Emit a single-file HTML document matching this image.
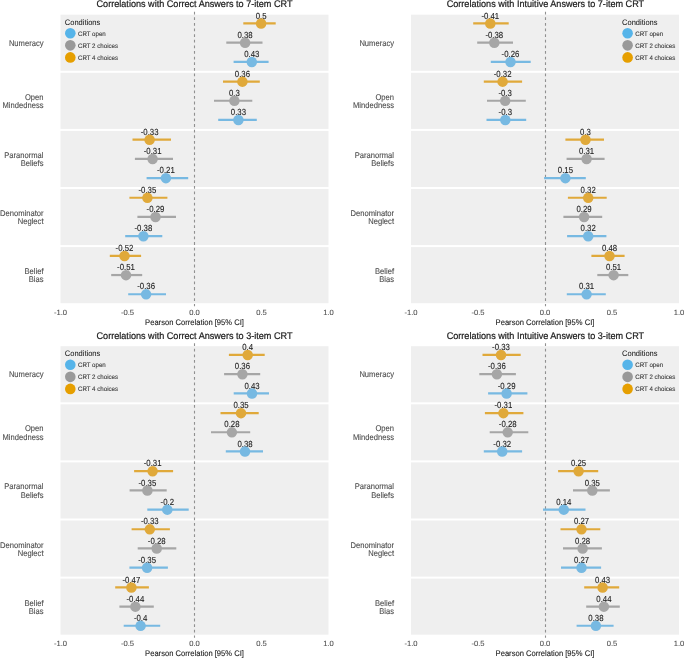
<!DOCTYPE html>
<html><head><meta charset="utf-8"><style>
html,body{margin:0;padding:0;background:#fff;width:685px;height:658px;overflow:hidden}
svg{display:block;font-family:"Liberation Sans", sans-serif;filter:blur(0.4px);text-rendering:geometricPrecision}
</style></head><body>
<svg width="685" height="658" viewBox="0 0 685 658">
<rect width="685" height="658" fill="#FFFFFF"/>
<text transform="translate(194.50,7.40) scale(1,1.06)" font-size="9.1" fill="#1A1A1A" stroke="#1A1A1A" stroke-width="0.2" text-anchor="middle">Correlations with Correct Answers to 7-item CRT</text>
<rect x="60.5" y="14.7" width="268.0" height="56.1" fill="#EFEFEF"/>
<rect x="60.5" y="72.8" width="268.0" height="56.1" fill="#EFEFEF"/>
<rect x="60.5" y="130.9" width="268.0" height="56.1" fill="#EFEFEF"/>
<rect x="60.5" y="189.0" width="268.0" height="56.1" fill="#EFEFEF"/>
<rect x="60.5" y="247.1" width="268.0" height="56.1" fill="#EFEFEF"/>
<line x1="194.50" y1="11.70" x2="194.50" y2="306.30" stroke="#909090" stroke-width="1.1" stroke-dasharray="2.8 2.82"/>
<text transform="translate(64.80,24.50) scale(1,1.06)" font-size="7.5" fill="#1A1A1A" stroke="#1A1A1A" stroke-width="0.05">Conditions</text>
<circle cx="70.30" cy="33.30" r="5.3" fill="#56B4E9"/>
<text transform="translate(78.00,35.75) scale(1,1.06)" font-size="6.15" fill="#333333" stroke="#333333" stroke-width="0.08">CRT open</text>
<circle cx="70.30" cy="45.35" r="5.3" fill="#999999"/>
<text transform="translate(78.00,47.80) scale(1,1.06)" font-size="6.15" fill="#333333" stroke="#333333" stroke-width="0.08">CRT 2 choices</text>
<circle cx="70.30" cy="57.40" r="5.3" fill="#E69F00"/>
<text transform="translate(78.00,59.85) scale(1,1.06)" font-size="6.15" fill="#333333" stroke="#333333" stroke-width="0.08">CRT 4 choices</text>
<text transform="translate(43.50,45.90) scale(1,1.1)" font-size="7.6" fill="#4D4D4D" stroke="#4D4D4D" stroke-width="0.1" text-anchor="end">Numeracy</text>
<text transform="translate(43.50,99.85) scale(1,1.1)" font-size="7.6" fill="#4D4D4D" stroke="#4D4D4D" stroke-width="0.1" text-anchor="end">Open</text>
<text transform="translate(43.50,108.15) scale(1,1.1)" font-size="7.6" fill="#4D4D4D" stroke="#4D4D4D" stroke-width="0.1" text-anchor="end">Mindedness</text>
<text transform="translate(43.50,157.95) scale(1,1.1)" font-size="7.6" fill="#4D4D4D" stroke="#4D4D4D" stroke-width="0.1" text-anchor="end">Paranormal</text>
<text transform="translate(43.50,166.25) scale(1,1.1)" font-size="7.6" fill="#4D4D4D" stroke="#4D4D4D" stroke-width="0.1" text-anchor="end">Beliefs</text>
<text transform="translate(43.50,216.05) scale(1,1.1)" font-size="7.6" fill="#4D4D4D" stroke="#4D4D4D" stroke-width="0.1" text-anchor="end">Denominator</text>
<text transform="translate(43.50,224.35) scale(1,1.1)" font-size="7.6" fill="#4D4D4D" stroke="#4D4D4D" stroke-width="0.1" text-anchor="end">Neglect</text>
<text transform="translate(43.50,274.15) scale(1,1.1)" font-size="7.6" fill="#4D4D4D" stroke="#4D4D4D" stroke-width="0.1" text-anchor="end">Belief</text>
<text transform="translate(43.50,282.45) scale(1,1.1)" font-size="7.6" fill="#4D4D4D" stroke="#4D4D4D" stroke-width="0.1" text-anchor="end">Bias</text>
<line x1="243.30" y1="23.45" x2="275.70" y2="23.45" stroke="#E0A93A" stroke-width="2.2"/>
<line x1="226.30" y1="42.65" x2="262.50" y2="42.65" stroke="#A6A6A6" stroke-width="2.2"/>
<line x1="233.60" y1="61.85" x2="268.60" y2="61.85" stroke="#77B9E2" stroke-width="2.2"/>
<line x1="223.00" y1="81.55" x2="259.80" y2="81.55" stroke="#E0A93A" stroke-width="2.2"/>
<line x1="214.00" y1="100.75" x2="252.30" y2="100.75" stroke="#A6A6A6" stroke-width="2.2"/>
<line x1="218.20" y1="119.95" x2="256.80" y2="119.95" stroke="#77B9E2" stroke-width="2.2"/>
<line x1="132.50" y1="139.65" x2="171.00" y2="139.65" stroke="#E0A93A" stroke-width="2.2"/>
<line x1="134.90" y1="158.85" x2="173.00" y2="158.85" stroke="#A6A6A6" stroke-width="2.2"/>
<line x1="146.60" y1="178.05" x2="188.20" y2="178.05" stroke="#77B9E2" stroke-width="2.2"/>
<line x1="129.40" y1="197.75" x2="167.40" y2="197.75" stroke="#E0A93A" stroke-width="2.2"/>
<line x1="137.40" y1="216.95" x2="176.00" y2="216.95" stroke="#A6A6A6" stroke-width="2.2"/>
<line x1="125.20" y1="236.15" x2="162.30" y2="236.15" stroke="#77B9E2" stroke-width="2.2"/>
<line x1="109.80" y1="255.85" x2="141.10" y2="255.85" stroke="#E0A93A" stroke-width="2.2"/>
<line x1="111.20" y1="275.05" x2="142.20" y2="275.05" stroke="#A6A6A6" stroke-width="2.2"/>
<line x1="128.20" y1="294.25" x2="166.00" y2="294.25" stroke="#77B9E2" stroke-width="2.2"/>
<text transform="translate(261.10,18.60) scale(1,1.13)" font-size="7.8" fill="#222222" stroke="#222222" stroke-width="0.1" text-anchor="middle">0.5</text>
<circle cx="261.10" cy="23.55" r="5.25" fill="#E0A93A"/>
<text transform="translate(245.10,37.80) scale(1,1.13)" font-size="7.8" fill="#222222" stroke="#222222" stroke-width="0.1" text-anchor="middle">0.38</text>
<circle cx="245.10" cy="42.75" r="5.25" fill="#A6A6A6"/>
<text transform="translate(251.80,57.00) scale(1,1.13)" font-size="7.8" fill="#222222" stroke="#222222" stroke-width="0.1" text-anchor="middle">0.43</text>
<circle cx="251.80" cy="61.95" r="5.25" fill="#77B9E2"/>
<text transform="translate(242.40,76.70) scale(1,1.13)" font-size="7.8" fill="#222222" stroke="#222222" stroke-width="0.1" text-anchor="middle">0.36</text>
<circle cx="242.40" cy="81.65" r="5.25" fill="#E0A93A"/>
<text transform="translate(234.40,95.90) scale(1,1.13)" font-size="7.8" fill="#222222" stroke="#222222" stroke-width="0.1" text-anchor="middle">0.3</text>
<circle cx="234.40" cy="100.85" r="5.25" fill="#A6A6A6"/>
<text transform="translate(238.40,115.10) scale(1,1.13)" font-size="7.8" fill="#222222" stroke="#222222" stroke-width="0.1" text-anchor="middle">0.33</text>
<circle cx="238.40" cy="120.05" r="5.25" fill="#77B9E2"/>
<text transform="translate(149.60,134.80) scale(1,1.13)" font-size="7.8" fill="#222222" stroke="#222222" stroke-width="0.1" text-anchor="middle">-0.33</text>
<circle cx="149.60" cy="139.75" r="5.25" fill="#E0A93A"/>
<text transform="translate(152.60,154.00) scale(1,1.13)" font-size="7.8" fill="#222222" stroke="#222222" stroke-width="0.1" text-anchor="middle">-0.31</text>
<circle cx="152.60" cy="158.95" r="5.25" fill="#A6A6A6"/>
<text transform="translate(165.90,173.20) scale(1,1.13)" font-size="7.8" fill="#222222" stroke="#222222" stroke-width="0.1" text-anchor="middle">-0.21</text>
<circle cx="165.90" cy="178.15" r="5.25" fill="#77B9E2"/>
<text transform="translate(147.40,192.90) scale(1,1.13)" font-size="7.8" fill="#222222" stroke="#222222" stroke-width="0.1" text-anchor="middle">-0.35</text>
<circle cx="147.40" cy="197.85" r="5.25" fill="#E0A93A"/>
<text transform="translate(155.50,212.10) scale(1,1.13)" font-size="7.8" fill="#222222" stroke="#222222" stroke-width="0.1" text-anchor="middle">-0.29</text>
<circle cx="155.50" cy="217.05" r="5.25" fill="#A6A6A6"/>
<text transform="translate(143.40,231.30) scale(1,1.13)" font-size="7.8" fill="#222222" stroke="#222222" stroke-width="0.1" text-anchor="middle">-0.38</text>
<circle cx="143.40" cy="236.25" r="5.25" fill="#77B9E2"/>
<text transform="translate(124.50,251.00) scale(1,1.13)" font-size="7.8" fill="#222222" stroke="#222222" stroke-width="0.1" text-anchor="middle">-0.52</text>
<circle cx="124.50" cy="255.95" r="5.25" fill="#E0A93A"/>
<text transform="translate(126.00,270.20) scale(1,1.13)" font-size="7.8" fill="#222222" stroke="#222222" stroke-width="0.1" text-anchor="middle">-0.51</text>
<circle cx="126.00" cy="275.15" r="5.25" fill="#A6A6A6"/>
<text transform="translate(146.10,289.40) scale(1,1.13)" font-size="7.8" fill="#222222" stroke="#222222" stroke-width="0.1" text-anchor="middle">-0.36</text>
<circle cx="146.10" cy="294.35" r="5.25" fill="#77B9E2"/>
<text transform="translate(60.50,314.90) scale(1,1.0)" font-size="7.6" fill="#4D4D4D" stroke="#4D4D4D" stroke-width="0.08" text-anchor="middle">-1.0</text>
<text transform="translate(127.50,314.90) scale(1,1.0)" font-size="7.6" fill="#4D4D4D" stroke="#4D4D4D" stroke-width="0.08" text-anchor="middle">-0.5</text>
<text transform="translate(194.50,314.90) scale(1,1.0)" font-size="7.6" fill="#4D4D4D" stroke="#4D4D4D" stroke-width="0.08" text-anchor="middle">0.0</text>
<text transform="translate(261.50,314.90) scale(1,1.0)" font-size="7.6" fill="#4D4D4D" stroke="#4D4D4D" stroke-width="0.08" text-anchor="middle">0.5</text>
<text transform="translate(328.50,314.90) scale(1,1.0)" font-size="7.6" fill="#4D4D4D" stroke="#4D4D4D" stroke-width="0.08" text-anchor="middle">1.0</text>
<text transform="translate(194.50,324.90) scale(1,1.06)" font-size="7.6" fill="#1A1A1A" stroke="#1A1A1A" stroke-width="0.1" text-anchor="middle">Pearson Correlation [95% CI]</text>
<text transform="translate(545.40,7.40) scale(1,1.06)" font-size="9.1" fill="#1A1A1A" stroke="#1A1A1A" stroke-width="0.2" text-anchor="middle">Correlations with Intuitive Answers to 7-item CRT</text>
<rect x="411.0" y="14.7" width="268.0" height="56.1" fill="#EFEFEF"/>
<rect x="411.0" y="72.8" width="268.0" height="56.1" fill="#EFEFEF"/>
<rect x="411.0" y="130.9" width="268.0" height="56.1" fill="#EFEFEF"/>
<rect x="411.0" y="189.0" width="268.0" height="56.1" fill="#EFEFEF"/>
<rect x="411.0" y="247.1" width="268.0" height="56.1" fill="#EFEFEF"/>
<line x1="545.50" y1="11.70" x2="545.50" y2="306.30" stroke="#909090" stroke-width="1.1" stroke-dasharray="2.8 2.82"/>
<text transform="translate(622.10,24.50) scale(1,1.06)" font-size="7.5" fill="#1A1A1A" stroke="#1A1A1A" stroke-width="0.05">Conditions</text>
<circle cx="627.60" cy="33.30" r="5.3" fill="#56B4E9"/>
<text transform="translate(635.30,35.75) scale(1,1.06)" font-size="6.15" fill="#333333" stroke="#333333" stroke-width="0.08">CRT open</text>
<circle cx="627.60" cy="45.35" r="5.3" fill="#999999"/>
<text transform="translate(635.30,47.80) scale(1,1.06)" font-size="6.15" fill="#333333" stroke="#333333" stroke-width="0.08">CRT 2 choices</text>
<circle cx="627.60" cy="57.40" r="5.3" fill="#E69F00"/>
<text transform="translate(635.30,59.85) scale(1,1.06)" font-size="6.15" fill="#333333" stroke="#333333" stroke-width="0.08">CRT 4 choices</text>
<text transform="translate(394.00,45.90) scale(1,1.1)" font-size="7.6" fill="#4D4D4D" stroke="#4D4D4D" stroke-width="0.1" text-anchor="end">Numeracy</text>
<text transform="translate(394.00,99.85) scale(1,1.1)" font-size="7.6" fill="#4D4D4D" stroke="#4D4D4D" stroke-width="0.1" text-anchor="end">Open</text>
<text transform="translate(394.00,108.15) scale(1,1.1)" font-size="7.6" fill="#4D4D4D" stroke="#4D4D4D" stroke-width="0.1" text-anchor="end">Mindedness</text>
<text transform="translate(394.00,157.95) scale(1,1.1)" font-size="7.6" fill="#4D4D4D" stroke="#4D4D4D" stroke-width="0.1" text-anchor="end">Paranormal</text>
<text transform="translate(394.00,166.25) scale(1,1.1)" font-size="7.6" fill="#4D4D4D" stroke="#4D4D4D" stroke-width="0.1" text-anchor="end">Beliefs</text>
<text transform="translate(394.00,216.05) scale(1,1.1)" font-size="7.6" fill="#4D4D4D" stroke="#4D4D4D" stroke-width="0.1" text-anchor="end">Denominator</text>
<text transform="translate(394.00,224.35) scale(1,1.1)" font-size="7.6" fill="#4D4D4D" stroke="#4D4D4D" stroke-width="0.1" text-anchor="end">Neglect</text>
<text transform="translate(394.00,274.15) scale(1,1.1)" font-size="7.6" fill="#4D4D4D" stroke="#4D4D4D" stroke-width="0.1" text-anchor="end">Belief</text>
<text transform="translate(394.00,282.45) scale(1,1.1)" font-size="7.6" fill="#4D4D4D" stroke="#4D4D4D" stroke-width="0.1" text-anchor="end">Bias</text>
<line x1="473.20" y1="23.45" x2="508.70" y2="23.45" stroke="#E0A93A" stroke-width="2.2"/>
<line x1="477.20" y1="42.65" x2="513.00" y2="42.65" stroke="#A6A6A6" stroke-width="2.2"/>
<line x1="490.80" y1="61.85" x2="530.70" y2="61.85" stroke="#77B9E2" stroke-width="2.2"/>
<line x1="483.80" y1="81.55" x2="522.10" y2="81.55" stroke="#E0A93A" stroke-width="2.2"/>
<line x1="487.00" y1="100.75" x2="525.80" y2="100.75" stroke="#A6A6A6" stroke-width="2.2"/>
<line x1="486.50" y1="119.95" x2="526.20" y2="119.95" stroke="#77B9E2" stroke-width="2.2"/>
<line x1="565.40" y1="139.65" x2="604.00" y2="139.65" stroke="#E0A93A" stroke-width="2.2"/>
<line x1="566.60" y1="158.85" x2="604.60" y2="158.85" stroke="#A6A6A6" stroke-width="2.2"/>
<line x1="544.10" y1="178.05" x2="585.80" y2="178.05" stroke="#77B9E2" stroke-width="2.2"/>
<line x1="567.90" y1="197.75" x2="606.70" y2="197.75" stroke="#E0A93A" stroke-width="2.2"/>
<line x1="563.40" y1="216.95" x2="602.20" y2="216.95" stroke="#A6A6A6" stroke-width="2.2"/>
<line x1="567.10" y1="236.15" x2="606.40" y2="236.15" stroke="#77B9E2" stroke-width="2.2"/>
<line x1="591.40" y1="255.85" x2="624.60" y2="255.85" stroke="#E0A93A" stroke-width="2.2"/>
<line x1="597.30" y1="275.05" x2="628.30" y2="275.05" stroke="#A6A6A6" stroke-width="2.2"/>
<line x1="566.80" y1="294.25" x2="605.80" y2="294.25" stroke="#77B9E2" stroke-width="2.2"/>
<text transform="translate(490.30,18.60) scale(1,1.13)" font-size="7.8" fill="#222222" stroke="#222222" stroke-width="0.1" text-anchor="middle">-0.41</text>
<circle cx="490.30" cy="23.55" r="5.25" fill="#E0A93A"/>
<text transform="translate(494.30,37.80) scale(1,1.13)" font-size="7.8" fill="#222222" stroke="#222222" stroke-width="0.1" text-anchor="middle">-0.38</text>
<circle cx="494.30" cy="42.75" r="5.25" fill="#A6A6A6"/>
<text transform="translate(510.50,57.00) scale(1,1.13)" font-size="7.8" fill="#222222" stroke="#222222" stroke-width="0.1" text-anchor="middle">-0.26</text>
<circle cx="510.50" cy="61.95" r="5.25" fill="#77B9E2"/>
<text transform="translate(502.60,76.70) scale(1,1.13)" font-size="7.8" fill="#222222" stroke="#222222" stroke-width="0.1" text-anchor="middle">-0.32</text>
<circle cx="502.60" cy="81.65" r="5.25" fill="#E0A93A"/>
<text transform="translate(505.20,95.90) scale(1,1.13)" font-size="7.8" fill="#222222" stroke="#222222" stroke-width="0.1" text-anchor="middle">-0.3</text>
<circle cx="505.20" cy="100.85" r="5.25" fill="#A6A6A6"/>
<text transform="translate(505.30,115.10) scale(1,1.13)" font-size="7.8" fill="#222222" stroke="#222222" stroke-width="0.1" text-anchor="middle">-0.3</text>
<circle cx="505.30" cy="120.05" r="5.25" fill="#77B9E2"/>
<text transform="translate(585.50,134.80) scale(1,1.13)" font-size="7.8" fill="#222222" stroke="#222222" stroke-width="0.1" text-anchor="middle">0.3</text>
<circle cx="585.50" cy="139.75" r="5.25" fill="#E0A93A"/>
<text transform="translate(586.60,154.00) scale(1,1.13)" font-size="7.8" fill="#222222" stroke="#222222" stroke-width="0.1" text-anchor="middle">0.31</text>
<circle cx="586.60" cy="158.95" r="5.25" fill="#A6A6A6"/>
<text transform="translate(565.40,173.20) scale(1,1.13)" font-size="7.8" fill="#222222" stroke="#222222" stroke-width="0.1" text-anchor="middle">0.15</text>
<circle cx="565.40" cy="178.15" r="5.25" fill="#77B9E2"/>
<text transform="translate(588.20,192.90) scale(1,1.13)" font-size="7.8" fill="#222222" stroke="#222222" stroke-width="0.1" text-anchor="middle">0.32</text>
<circle cx="588.20" cy="197.85" r="5.25" fill="#E0A93A"/>
<text transform="translate(584.10,212.10) scale(1,1.13)" font-size="7.8" fill="#222222" stroke="#222222" stroke-width="0.1" text-anchor="middle">0.29</text>
<circle cx="584.10" cy="217.05" r="5.25" fill="#A6A6A6"/>
<text transform="translate(588.20,231.30) scale(1,1.13)" font-size="7.8" fill="#222222" stroke="#222222" stroke-width="0.1" text-anchor="middle">0.32</text>
<circle cx="588.20" cy="236.25" r="5.25" fill="#77B9E2"/>
<text transform="translate(609.50,251.00) scale(1,1.13)" font-size="7.8" fill="#222222" stroke="#222222" stroke-width="0.1" text-anchor="middle">0.48</text>
<circle cx="609.50" cy="255.95" r="5.25" fill="#E0A93A"/>
<text transform="translate(613.60,270.20) scale(1,1.13)" font-size="7.8" fill="#222222" stroke="#222222" stroke-width="0.1" text-anchor="middle">0.51</text>
<circle cx="613.60" cy="275.15" r="5.25" fill="#A6A6A6"/>
<text transform="translate(586.60,289.40) scale(1,1.13)" font-size="7.8" fill="#222222" stroke="#222222" stroke-width="0.1" text-anchor="middle">0.31</text>
<circle cx="586.60" cy="294.35" r="5.25" fill="#77B9E2"/>
<text transform="translate(411.00,314.90) scale(1,1.0)" font-size="7.6" fill="#4D4D4D" stroke="#4D4D4D" stroke-width="0.08" text-anchor="middle">-1.0</text>
<text transform="translate(478.00,314.90) scale(1,1.0)" font-size="7.6" fill="#4D4D4D" stroke="#4D4D4D" stroke-width="0.08" text-anchor="middle">-0.5</text>
<text transform="translate(545.00,314.90) scale(1,1.0)" font-size="7.6" fill="#4D4D4D" stroke="#4D4D4D" stroke-width="0.08" text-anchor="middle">0.0</text>
<text transform="translate(612.00,314.90) scale(1,1.0)" font-size="7.6" fill="#4D4D4D" stroke="#4D4D4D" stroke-width="0.08" text-anchor="middle">0.5</text>
<text transform="translate(679.00,314.90) scale(1,1.0)" font-size="7.6" fill="#4D4D4D" stroke="#4D4D4D" stroke-width="0.08" text-anchor="middle">1.0</text>
<text transform="translate(545.00,324.90) scale(1,1.06)" font-size="7.6" fill="#1A1A1A" stroke="#1A1A1A" stroke-width="0.1" text-anchor="middle">Pearson Correlation [95% CI]</text>
<text transform="translate(194.50,338.90) scale(1,1.06)" font-size="9.1" fill="#1A1A1A" stroke="#1A1A1A" stroke-width="0.2" text-anchor="middle">Correlations with Correct Answers to 3-item CRT</text>
<rect x="60.5" y="346.2" width="268.0" height="56.1" fill="#EFEFEF"/>
<rect x="60.5" y="404.3" width="268.0" height="56.1" fill="#EFEFEF"/>
<rect x="60.5" y="462.4" width="268.0" height="56.1" fill="#EFEFEF"/>
<rect x="60.5" y="520.5" width="268.0" height="56.1" fill="#EFEFEF"/>
<rect x="60.5" y="578.6" width="268.0" height="56.1" fill="#EFEFEF"/>
<line x1="194.50" y1="343.20" x2="194.50" y2="637.80" stroke="#909090" stroke-width="1.1" stroke-dasharray="2.8 2.82"/>
<text transform="translate(64.80,356.00) scale(1,1.06)" font-size="7.5" fill="#1A1A1A" stroke="#1A1A1A" stroke-width="0.05">Conditions</text>
<circle cx="70.30" cy="364.80" r="5.3" fill="#56B4E9"/>
<text transform="translate(78.00,367.25) scale(1,1.06)" font-size="6.15" fill="#333333" stroke="#333333" stroke-width="0.08">CRT open</text>
<circle cx="70.30" cy="376.85" r="5.3" fill="#999999"/>
<text transform="translate(78.00,379.30) scale(1,1.06)" font-size="6.15" fill="#333333" stroke="#333333" stroke-width="0.08">CRT 2 choices</text>
<circle cx="70.30" cy="388.90" r="5.3" fill="#E69F00"/>
<text transform="translate(78.00,391.35) scale(1,1.06)" font-size="6.15" fill="#333333" stroke="#333333" stroke-width="0.08">CRT 4 choices</text>
<text transform="translate(43.50,377.40) scale(1,1.1)" font-size="7.6" fill="#4D4D4D" stroke="#4D4D4D" stroke-width="0.1" text-anchor="end">Numeracy</text>
<text transform="translate(43.50,431.35) scale(1,1.1)" font-size="7.6" fill="#4D4D4D" stroke="#4D4D4D" stroke-width="0.1" text-anchor="end">Open</text>
<text transform="translate(43.50,439.65) scale(1,1.1)" font-size="7.6" fill="#4D4D4D" stroke="#4D4D4D" stroke-width="0.1" text-anchor="end">Mindedness</text>
<text transform="translate(43.50,489.45) scale(1,1.1)" font-size="7.6" fill="#4D4D4D" stroke="#4D4D4D" stroke-width="0.1" text-anchor="end">Paranormal</text>
<text transform="translate(43.50,497.75) scale(1,1.1)" font-size="7.6" fill="#4D4D4D" stroke="#4D4D4D" stroke-width="0.1" text-anchor="end">Beliefs</text>
<text transform="translate(43.50,547.55) scale(1,1.1)" font-size="7.6" fill="#4D4D4D" stroke="#4D4D4D" stroke-width="0.1" text-anchor="end">Denominator</text>
<text transform="translate(43.50,555.85) scale(1,1.1)" font-size="7.6" fill="#4D4D4D" stroke="#4D4D4D" stroke-width="0.1" text-anchor="end">Neglect</text>
<text transform="translate(43.50,605.65) scale(1,1.1)" font-size="7.6" fill="#4D4D4D" stroke="#4D4D4D" stroke-width="0.1" text-anchor="end">Belief</text>
<text transform="translate(43.50,613.95) scale(1,1.1)" font-size="7.6" fill="#4D4D4D" stroke="#4D4D4D" stroke-width="0.1" text-anchor="end">Bias</text>
<line x1="228.90" y1="354.95" x2="264.70" y2="354.95" stroke="#E0A93A" stroke-width="2.2"/>
<line x1="224.10" y1="374.15" x2="260.20" y2="374.15" stroke="#A6A6A6" stroke-width="2.2"/>
<line x1="233.70" y1="393.35" x2="269.00" y2="393.35" stroke="#77B9E2" stroke-width="2.2"/>
<line x1="220.50" y1="413.05" x2="258.70" y2="413.05" stroke="#E0A93A" stroke-width="2.2"/>
<line x1="211.00" y1="432.25" x2="250.20" y2="432.25" stroke="#A6A6A6" stroke-width="2.2"/>
<line x1="225.80" y1="451.45" x2="263.00" y2="451.45" stroke="#77B9E2" stroke-width="2.2"/>
<line x1="134.10" y1="471.15" x2="173.10" y2="471.15" stroke="#E0A93A" stroke-width="2.2"/>
<line x1="129.60" y1="490.35" x2="166.70" y2="490.35" stroke="#A6A6A6" stroke-width="2.2"/>
<line x1="147.30" y1="509.55" x2="188.70" y2="509.55" stroke="#77B9E2" stroke-width="2.2"/>
<line x1="131.60" y1="529.25" x2="169.90" y2="529.25" stroke="#E0A93A" stroke-width="2.2"/>
<line x1="137.70" y1="548.45" x2="176.30" y2="548.45" stroke="#A6A6A6" stroke-width="2.2"/>
<line x1="129.40" y1="567.65" x2="167.90" y2="567.65" stroke="#77B9E2" stroke-width="2.2"/>
<line x1="115.20" y1="587.35" x2="148.90" y2="587.35" stroke="#E0A93A" stroke-width="2.2"/>
<line x1="119.40" y1="606.55" x2="153.80" y2="606.55" stroke="#A6A6A6" stroke-width="2.2"/>
<line x1="123.70" y1="625.75" x2="160.20" y2="625.75" stroke="#77B9E2" stroke-width="2.2"/>
<text transform="translate(247.70,350.10) scale(1,1.13)" font-size="7.8" fill="#222222" stroke="#222222" stroke-width="0.1" text-anchor="middle">0.4</text>
<circle cx="247.70" cy="355.05" r="5.25" fill="#E0A93A"/>
<text transform="translate(242.40,369.30) scale(1,1.13)" font-size="7.8" fill="#222222" stroke="#222222" stroke-width="0.1" text-anchor="middle">0.36</text>
<circle cx="242.40" cy="374.25" r="5.25" fill="#A6A6A6"/>
<text transform="translate(252.00,388.50) scale(1,1.13)" font-size="7.8" fill="#222222" stroke="#222222" stroke-width="0.1" text-anchor="middle">0.43</text>
<circle cx="252.00" cy="393.45" r="5.25" fill="#77B9E2"/>
<text transform="translate(241.00,408.20) scale(1,1.13)" font-size="7.8" fill="#222222" stroke="#222222" stroke-width="0.1" text-anchor="middle">0.35</text>
<circle cx="241.00" cy="413.15" r="5.25" fill="#E0A93A"/>
<text transform="translate(231.90,427.40) scale(1,1.13)" font-size="7.8" fill="#222222" stroke="#222222" stroke-width="0.1" text-anchor="middle">0.28</text>
<circle cx="231.90" cy="432.35" r="5.25" fill="#A6A6A6"/>
<text transform="translate(245.00,446.60) scale(1,1.13)" font-size="7.8" fill="#222222" stroke="#222222" stroke-width="0.1" text-anchor="middle">0.38</text>
<circle cx="245.00" cy="451.55" r="5.25" fill="#77B9E2"/>
<text transform="translate(152.60,466.30) scale(1,1.13)" font-size="7.8" fill="#222222" stroke="#222222" stroke-width="0.1" text-anchor="middle">-0.31</text>
<circle cx="152.60" cy="471.25" r="5.25" fill="#E0A93A"/>
<text transform="translate(147.40,485.50) scale(1,1.13)" font-size="7.8" fill="#222222" stroke="#222222" stroke-width="0.1" text-anchor="middle">-0.35</text>
<circle cx="147.40" cy="490.45" r="5.25" fill="#A6A6A6"/>
<text transform="translate(167.30,504.70) scale(1,1.13)" font-size="7.8" fill="#222222" stroke="#222222" stroke-width="0.1" text-anchor="middle">-0.2</text>
<circle cx="167.30" cy="509.65" r="5.25" fill="#77B9E2"/>
<text transform="translate(149.80,524.40) scale(1,1.13)" font-size="7.8" fill="#222222" stroke="#222222" stroke-width="0.1" text-anchor="middle">-0.33</text>
<circle cx="149.80" cy="529.35" r="5.25" fill="#E0A93A"/>
<text transform="translate(156.70,543.60) scale(1,1.13)" font-size="7.8" fill="#222222" stroke="#222222" stroke-width="0.1" text-anchor="middle">-0.28</text>
<circle cx="156.70" cy="548.55" r="5.25" fill="#A6A6A6"/>
<text transform="translate(147.10,562.80) scale(1,1.13)" font-size="7.8" fill="#222222" stroke="#222222" stroke-width="0.1" text-anchor="middle">-0.35</text>
<circle cx="147.10" cy="567.75" r="5.25" fill="#77B9E2"/>
<text transform="translate(131.40,582.50) scale(1,1.13)" font-size="7.8" fill="#222222" stroke="#222222" stroke-width="0.1" text-anchor="middle">-0.47</text>
<circle cx="131.40" cy="587.45" r="5.25" fill="#E0A93A"/>
<text transform="translate(135.40,601.70) scale(1,1.13)" font-size="7.8" fill="#222222" stroke="#222222" stroke-width="0.1" text-anchor="middle">-0.44</text>
<circle cx="135.40" cy="606.65" r="5.25" fill="#A6A6A6"/>
<text transform="translate(140.60,620.90) scale(1,1.13)" font-size="7.8" fill="#222222" stroke="#222222" stroke-width="0.1" text-anchor="middle">-0.4</text>
<circle cx="140.60" cy="625.85" r="5.25" fill="#77B9E2"/>
<text transform="translate(60.50,646.40) scale(1,1.0)" font-size="7.6" fill="#4D4D4D" stroke="#4D4D4D" stroke-width="0.08" text-anchor="middle">-1.0</text>
<text transform="translate(127.50,646.40) scale(1,1.0)" font-size="7.6" fill="#4D4D4D" stroke="#4D4D4D" stroke-width="0.08" text-anchor="middle">-0.5</text>
<text transform="translate(194.50,646.40) scale(1,1.0)" font-size="7.6" fill="#4D4D4D" stroke="#4D4D4D" stroke-width="0.08" text-anchor="middle">0.0</text>
<text transform="translate(261.50,646.40) scale(1,1.0)" font-size="7.6" fill="#4D4D4D" stroke="#4D4D4D" stroke-width="0.08" text-anchor="middle">0.5</text>
<text transform="translate(328.50,646.40) scale(1,1.0)" font-size="7.6" fill="#4D4D4D" stroke="#4D4D4D" stroke-width="0.08" text-anchor="middle">1.0</text>
<text transform="translate(194.50,656.40) scale(1,1.06)" font-size="7.6" fill="#1A1A1A" stroke="#1A1A1A" stroke-width="0.1" text-anchor="middle">Pearson Correlation [95% CI]</text>
<text transform="translate(545.40,338.90) scale(1,1.06)" font-size="9.1" fill="#1A1A1A" stroke="#1A1A1A" stroke-width="0.2" text-anchor="middle">Correlations with Intuitive Answers to 3-item CRT</text>
<rect x="411.0" y="346.2" width="268.0" height="56.1" fill="#EFEFEF"/>
<rect x="411.0" y="404.3" width="268.0" height="56.1" fill="#EFEFEF"/>
<rect x="411.0" y="462.4" width="268.0" height="56.1" fill="#EFEFEF"/>
<rect x="411.0" y="520.5" width="268.0" height="56.1" fill="#EFEFEF"/>
<rect x="411.0" y="578.6" width="268.0" height="56.1" fill="#EFEFEF"/>
<line x1="545.50" y1="343.20" x2="545.50" y2="637.80" stroke="#909090" stroke-width="1.1" stroke-dasharray="2.8 2.82"/>
<text transform="translate(622.10,356.00) scale(1,1.06)" font-size="7.5" fill="#1A1A1A" stroke="#1A1A1A" stroke-width="0.05">Conditions</text>
<circle cx="627.60" cy="364.80" r="5.3" fill="#56B4E9"/>
<text transform="translate(635.30,367.25) scale(1,1.06)" font-size="6.15" fill="#333333" stroke="#333333" stroke-width="0.08">CRT open</text>
<circle cx="627.60" cy="376.85" r="5.3" fill="#999999"/>
<text transform="translate(635.30,379.30) scale(1,1.06)" font-size="6.15" fill="#333333" stroke="#333333" stroke-width="0.08">CRT 2 choices</text>
<circle cx="627.60" cy="388.90" r="5.3" fill="#E69F00"/>
<text transform="translate(635.30,391.35) scale(1,1.06)" font-size="6.15" fill="#333333" stroke="#333333" stroke-width="0.08">CRT 4 choices</text>
<text transform="translate(394.00,377.40) scale(1,1.1)" font-size="7.6" fill="#4D4D4D" stroke="#4D4D4D" stroke-width="0.1" text-anchor="end">Numeracy</text>
<text transform="translate(394.00,431.35) scale(1,1.1)" font-size="7.6" fill="#4D4D4D" stroke="#4D4D4D" stroke-width="0.1" text-anchor="end">Open</text>
<text transform="translate(394.00,439.65) scale(1,1.1)" font-size="7.6" fill="#4D4D4D" stroke="#4D4D4D" stroke-width="0.1" text-anchor="end">Mindedness</text>
<text transform="translate(394.00,489.45) scale(1,1.1)" font-size="7.6" fill="#4D4D4D" stroke="#4D4D4D" stroke-width="0.1" text-anchor="end">Paranormal</text>
<text transform="translate(394.00,497.75) scale(1,1.1)" font-size="7.6" fill="#4D4D4D" stroke="#4D4D4D" stroke-width="0.1" text-anchor="end">Beliefs</text>
<text transform="translate(394.00,547.55) scale(1,1.1)" font-size="7.6" fill="#4D4D4D" stroke="#4D4D4D" stroke-width="0.1" text-anchor="end">Denominator</text>
<text transform="translate(394.00,555.85) scale(1,1.1)" font-size="7.6" fill="#4D4D4D" stroke="#4D4D4D" stroke-width="0.1" text-anchor="end">Neglect</text>
<text transform="translate(394.00,605.65) scale(1,1.1)" font-size="7.6" fill="#4D4D4D" stroke="#4D4D4D" stroke-width="0.1" text-anchor="end">Belief</text>
<text transform="translate(394.00,613.95) scale(1,1.1)" font-size="7.6" fill="#4D4D4D" stroke="#4D4D4D" stroke-width="0.1" text-anchor="end">Bias</text>
<line x1="482.50" y1="354.95" x2="520.70" y2="354.95" stroke="#E0A93A" stroke-width="2.2"/>
<line x1="479.30" y1="374.15" x2="515.90" y2="374.15" stroke="#A6A6A6" stroke-width="2.2"/>
<line x1="488.10" y1="393.35" x2="527.40" y2="393.35" stroke="#77B9E2" stroke-width="2.2"/>
<line x1="484.90" y1="413.05" x2="523.40" y2="413.05" stroke="#E0A93A" stroke-width="2.2"/>
<line x1="489.70" y1="432.25" x2="528.30" y2="432.25" stroke="#A6A6A6" stroke-width="2.2"/>
<line x1="483.80" y1="451.45" x2="522.10" y2="451.45" stroke="#77B9E2" stroke-width="2.2"/>
<line x1="558.10" y1="471.15" x2="598.20" y2="471.15" stroke="#E0A93A" stroke-width="2.2"/>
<line x1="573.00" y1="490.35" x2="609.90" y2="490.35" stroke="#A6A6A6" stroke-width="2.2"/>
<line x1="543.00" y1="509.55" x2="585.50" y2="509.55" stroke="#77B9E2" stroke-width="2.2"/>
<line x1="560.50" y1="529.25" x2="600.30" y2="529.25" stroke="#E0A93A" stroke-width="2.2"/>
<line x1="563.00" y1="548.45" x2="601.90" y2="548.45" stroke="#A6A6A6" stroke-width="2.2"/>
<line x1="561.00" y1="567.65" x2="601.10" y2="567.65" stroke="#77B9E2" stroke-width="2.2"/>
<line x1="584.20" y1="587.35" x2="619.20" y2="587.35" stroke="#E0A93A" stroke-width="2.2"/>
<line x1="586.20" y1="606.55" x2="619.80" y2="606.55" stroke="#A6A6A6" stroke-width="2.2"/>
<line x1="576.60" y1="625.75" x2="613.60" y2="625.75" stroke="#77B9E2" stroke-width="2.2"/>
<text transform="translate(501.00,350.10) scale(1,1.13)" font-size="7.8" fill="#222222" stroke="#222222" stroke-width="0.1" text-anchor="middle">-0.33</text>
<circle cx="501.00" cy="355.05" r="5.25" fill="#E0A93A"/>
<text transform="translate(496.90,369.30) scale(1,1.13)" font-size="7.8" fill="#222222" stroke="#222222" stroke-width="0.1" text-anchor="middle">-0.36</text>
<circle cx="496.90" cy="374.25" r="5.25" fill="#A6A6A6"/>
<text transform="translate(506.60,388.50) scale(1,1.13)" font-size="7.8" fill="#222222" stroke="#222222" stroke-width="0.1" text-anchor="middle">-0.29</text>
<circle cx="506.60" cy="393.45" r="5.25" fill="#77B9E2"/>
<text transform="translate(503.40,408.20) scale(1,1.13)" font-size="7.8" fill="#222222" stroke="#222222" stroke-width="0.1" text-anchor="middle">-0.31</text>
<circle cx="503.40" cy="413.15" r="5.25" fill="#E0A93A"/>
<text transform="translate(507.70,427.40) scale(1,1.13)" font-size="7.8" fill="#222222" stroke="#222222" stroke-width="0.1" text-anchor="middle">-0.28</text>
<circle cx="507.70" cy="432.35" r="5.25" fill="#A6A6A6"/>
<text transform="translate(502.20,446.60) scale(1,1.13)" font-size="7.8" fill="#222222" stroke="#222222" stroke-width="0.1" text-anchor="middle">-0.32</text>
<circle cx="502.20" cy="451.55" r="5.25" fill="#77B9E2"/>
<text transform="translate(578.60,466.30) scale(1,1.13)" font-size="7.8" fill="#222222" stroke="#222222" stroke-width="0.1" text-anchor="middle">0.25</text>
<circle cx="578.60" cy="471.25" r="5.25" fill="#E0A93A"/>
<text transform="translate(592.30,485.50) scale(1,1.13)" font-size="7.8" fill="#222222" stroke="#222222" stroke-width="0.1" text-anchor="middle">0.35</text>
<circle cx="592.30" cy="490.45" r="5.25" fill="#A6A6A6"/>
<text transform="translate(563.80,504.70) scale(1,1.13)" font-size="7.8" fill="#222222" stroke="#222222" stroke-width="0.1" text-anchor="middle">0.14</text>
<circle cx="563.80" cy="509.65" r="5.25" fill="#77B9E2"/>
<text transform="translate(581.50,524.40) scale(1,1.13)" font-size="7.8" fill="#222222" stroke="#222222" stroke-width="0.1" text-anchor="middle">0.27</text>
<circle cx="581.50" cy="529.35" r="5.25" fill="#E0A93A"/>
<text transform="translate(582.60,543.60) scale(1,1.13)" font-size="7.8" fill="#222222" stroke="#222222" stroke-width="0.1" text-anchor="middle">0.28</text>
<circle cx="582.60" cy="548.55" r="5.25" fill="#A6A6A6"/>
<text transform="translate(581.50,562.80) scale(1,1.13)" font-size="7.8" fill="#222222" stroke="#222222" stroke-width="0.1" text-anchor="middle">0.27</text>
<circle cx="581.50" cy="567.75" r="5.25" fill="#77B9E2"/>
<text transform="translate(602.60,582.50) scale(1,1.13)" font-size="7.8" fill="#222222" stroke="#222222" stroke-width="0.1" text-anchor="middle">0.43</text>
<circle cx="602.60" cy="587.45" r="5.25" fill="#E0A93A"/>
<text transform="translate(603.90,601.70) scale(1,1.13)" font-size="7.8" fill="#222222" stroke="#222222" stroke-width="0.1" text-anchor="middle">0.44</text>
<circle cx="603.90" cy="606.65" r="5.25" fill="#A6A6A6"/>
<text transform="translate(595.90,620.90) scale(1,1.13)" font-size="7.8" fill="#222222" stroke="#222222" stroke-width="0.1" text-anchor="middle">0.38</text>
<circle cx="595.90" cy="625.85" r="5.25" fill="#77B9E2"/>
<text transform="translate(411.00,646.40) scale(1,1.0)" font-size="7.6" fill="#4D4D4D" stroke="#4D4D4D" stroke-width="0.08" text-anchor="middle">-1.0</text>
<text transform="translate(478.00,646.40) scale(1,1.0)" font-size="7.6" fill="#4D4D4D" stroke="#4D4D4D" stroke-width="0.08" text-anchor="middle">-0.5</text>
<text transform="translate(545.00,646.40) scale(1,1.0)" font-size="7.6" fill="#4D4D4D" stroke="#4D4D4D" stroke-width="0.08" text-anchor="middle">0.0</text>
<text transform="translate(612.00,646.40) scale(1,1.0)" font-size="7.6" fill="#4D4D4D" stroke="#4D4D4D" stroke-width="0.08" text-anchor="middle">0.5</text>
<text transform="translate(679.00,646.40) scale(1,1.0)" font-size="7.6" fill="#4D4D4D" stroke="#4D4D4D" stroke-width="0.08" text-anchor="middle">1.0</text>
<text transform="translate(545.00,656.40) scale(1,1.06)" font-size="7.6" fill="#1A1A1A" stroke="#1A1A1A" stroke-width="0.1" text-anchor="middle">Pearson Correlation [95% CI]</text>
</svg>
</body></html>
